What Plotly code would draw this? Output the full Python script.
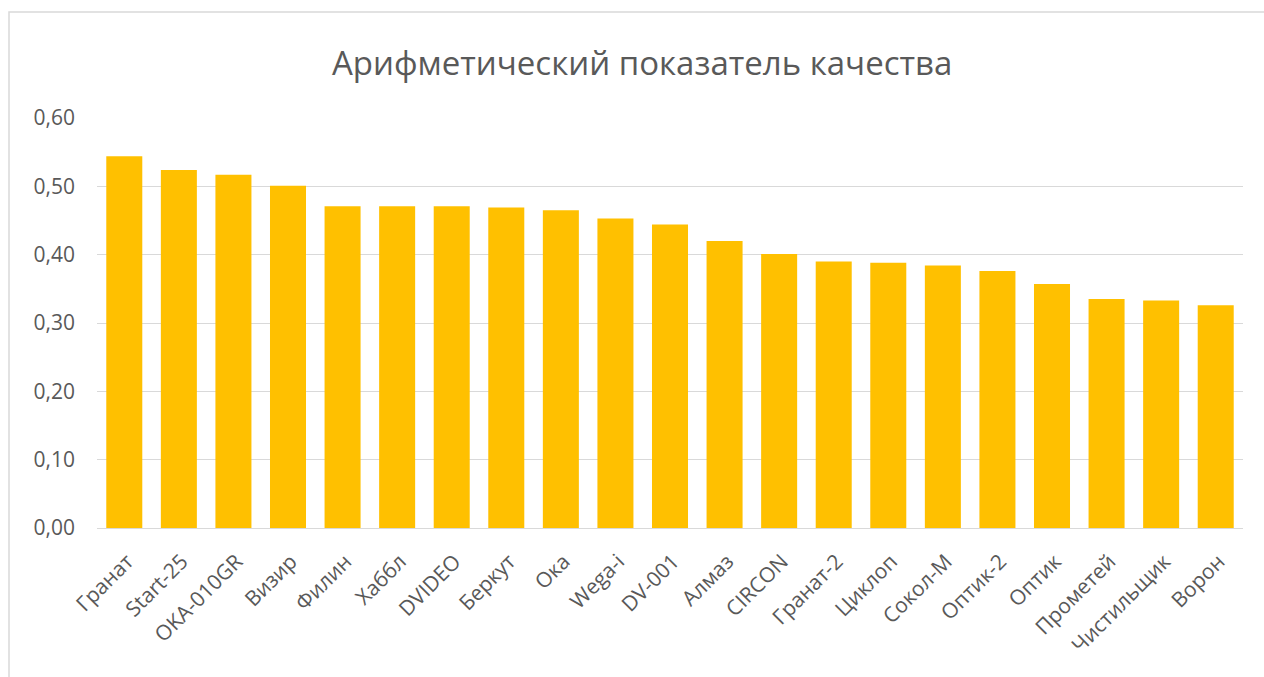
import plotly.graph_objects as go

categories = ["Гранат", "Start-25", "OKA-010GR", "Визир", "Филин", "Хаббл", "DVIDEO",
              "Беркут", "Ока", "Wega-i", "DV-001", "Алмаз", "CIRCON", "Гранат-2",
              "Циклоп", "Сокол-М", "Оптик-2", "Оптик", "Прометей", "Чистильщик", "Ворон"]
values = [0.544, 0.524, 0.517, 0.501, 0.471, 0.471, 0.471,
          0.469, 0.465, 0.453, 0.444, 0.420, 0.401, 0.390,
          0.388, 0.384, 0.376, 0.357, 0.335, 0.333, 0.326]
title_text = "Арифметический показатель качества"
y_ticks = [0, 0.1, 0.2, 0.3, 0.4, 0.5, 0.6]

W, H = 1264, 677
L, R, T, B = 97, 21, 118, 149
pw, ph = W - L - R, H - T - B

fig = go.Figure(go.Bar(x=categories, y=values, marker_color="#FFC000",
                       marker_line_width=0))

font = "Open Sans, Liberation Sans, sans-serif"
fig.update_layout(
    width=W, height=H,
    margin=dict(l=L, r=R, t=T, b=B, pad=0),
    paper_bgcolor="white", plot_bgcolor="white",
    separators=", ",
    bargap=0.34,
    showlegend=False,
    title=dict(text=title_text, x=0.508, xref="container", xanchor="center",
               y=1 - 63 / H, yref="container", yanchor="middle",
               font=dict(family=font, size=33, color="#595959")),
    font=dict(family=font, color="#595959"),
)
fig.update_xaxes(tickangle=-45, tickfont=dict(size=21, color="#595959"),
                 showline=True, linecolor="#d9d9d9", linewidth=1,
                 ticks="", showgrid=False, ticklabelstandoff=12, ticklabelshift=3)
fig.update_yaxes(range=[0, 0.6], tickvals=y_ticks, tickformat=".2f",
                 tickfont=dict(size=21, color="#595959"),
                 showgrid=True, gridcolor="#d9d9d9", gridwidth=1,
                 zeroline=False, showline=False, ticks="", ticklabelstandoff=21)

fig.add_shape(type="rect", xref="paper", yref="paper",
              x0=(9 - L) / pw, x1=(1290 - L) / pw,
              y0=-(700 - (H - B)) / ph, y1=1 + (T - 12) / ph,
              line=dict(color="#d9d9d9", width=1.5), fillcolor="rgba(0,0,0,0)",
              layer="below")

fig.write_html("out.html", config={"displayModeBar": False},
               post_script="document.body.style.margin='0';document.body.style.overflow='hidden';")
